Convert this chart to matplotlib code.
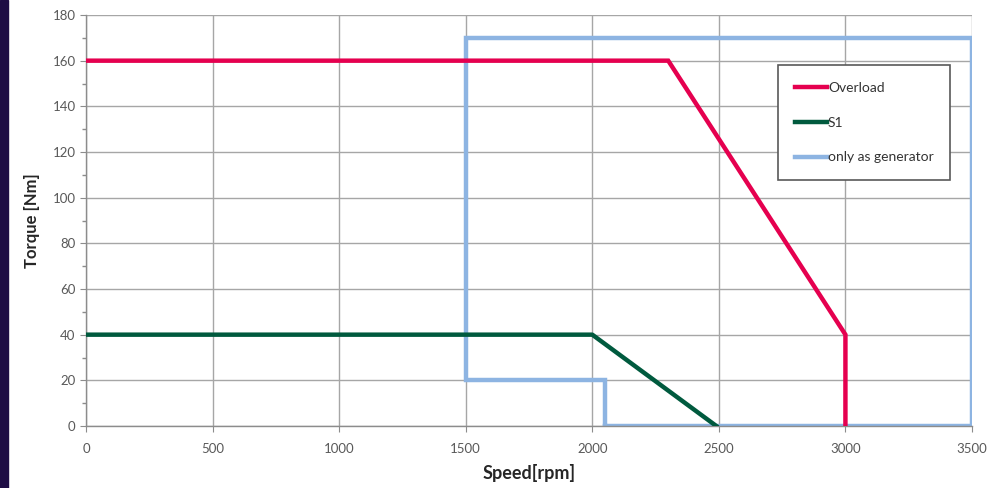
import matplotlib.pyplot as plt
from matplotlib.patches import Rectangle

plt.rcParams['font.family'] = ['Lato', 'DejaVu Sans']

# data
overload_speed = [0, 2300, 3000, 3000]
overload_torque = [160, 160, 40, 0]

s1_speed = [0, 2000, 2490]
s1_torque = [40, 40, 0]

gen_speed = [2050, 2050, 1500, 1500, 3500, 3500, 2050]
gen_torque = [0, 20, 20, 170, 170, 0, 0]

x_ticks = [0, 500, 1000, 1500, 2000, 2500, 3000, 3500]
y_ticks = list(range(0, 181, 20))

fig = plt.figure(figsize=(10.08, 4.88), dpi=100)
fig.patches.append(Rectangle((0, 0), 8 / 1008, 1, transform=fig.transFigure,
                             color='#1e0d45', zorder=0))
ax = fig.add_axes([86 / 1008, 1 - 426 / 488, 886 / 1008, 411 / 488])

ax.plot(overload_speed, overload_torque, color='#e5004f', lw=3.2, label='Overload',
        solid_joinstyle='miter', zorder=3)
ax.plot(s1_speed, s1_torque, color='#005a3e', lw=3.2, label='S1', zorder=3)
ax.plot(gen_speed, gen_torque, color='#8db4e2', lw=3.2, label='only as generator',
        solid_joinstyle='miter', zorder=2)

ax.set_xlim(0, 3500)
ax.set_ylim(0, 180)
ax.set_xticks(x_ticks)
ax.set_yticks(y_ticks)
ax.set_yticks(range(10, 180, 20), minor=True)
ax.grid(True, which='major', color='#a6a6a6', lw=1)
ax.set_axisbelow(True)

for side in ['top', 'right']:
    ax.spines[side].set_visible(False)
for side in ['left', 'bottom']:
    ax.spines[side].set_color('#8c8c8c')
    ax.spines[side].set_linewidth(1)

ax.tick_params(axis='both', which='major', colors='#8c8c8c', labelcolor='#595959',
               labelsize=9.5, length=4)
ax.tick_params(axis='y', which='minor', colors='#8c8c8c', length=3, width=1)
ax.tick_params(axis='x', pad=8)

ax.set_xlabel('Speed[rpm]', fontsize=13, fontweight='bold', color='#262626', labelpad=7)
ax.set_ylabel('Torque [Nm]', fontsize=12, fontweight='bold', color='#262626', labelpad=9)

leg = ax.legend(loc='upper left', bbox_to_anchor=(778 / 1008, 1 - 65 / 488),
                bbox_transform=fig.transFigure, fancybox=False, frameon=True,
                edgecolor='#595959', framealpha=1, fontsize=10,
                handlelength=2.3, handletextpad=0.1, labelspacing=1.65,
                borderpad=1.2, borderaxespad=0)
leg.get_frame().set_linewidth(1.2)
for t in leg.get_texts():
    t.set_color('#333333')

fig.savefig('out.png', dpi=100)
